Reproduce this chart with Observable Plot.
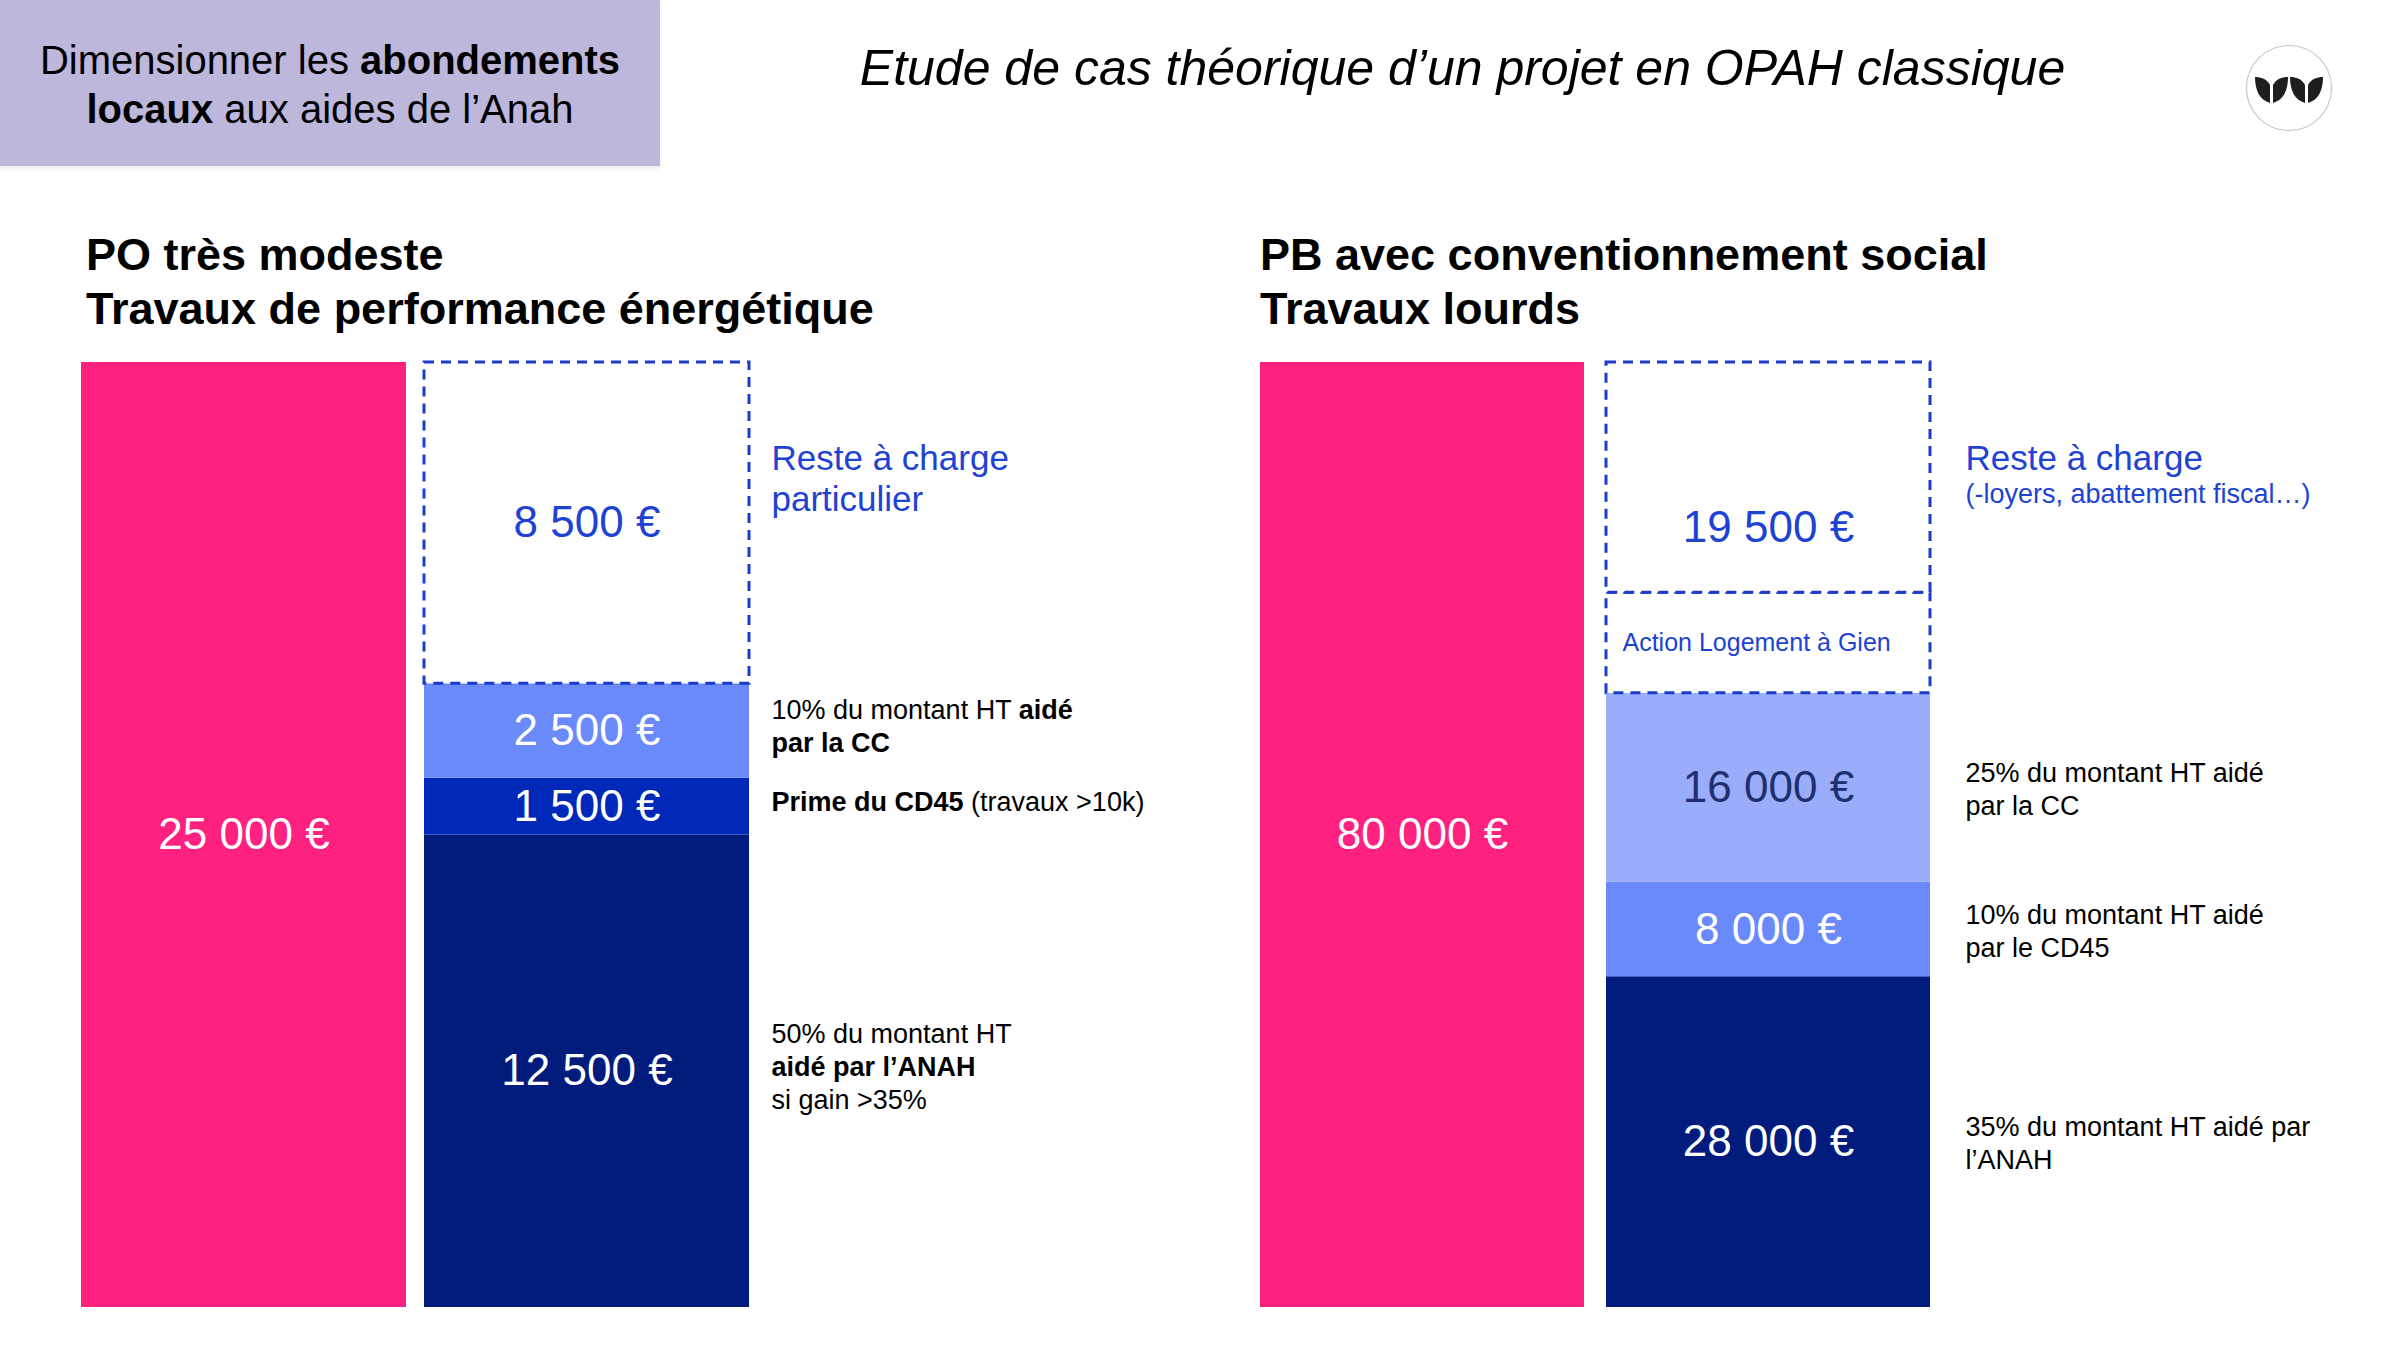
<!DOCTYPE html>
<html lang="fr">
<head>
<meta charset="utf-8">
<script src="https://cdn.jsdelivr.net/npm/d3@7"></script>
<script src="https://cdn.jsdelivr.net/npm/@observablehq/plot@0.6"></script>
<style>
  html, body { margin: 0; padding: 0; background: #fff; }
  body { width: 2400px; height: 1350px; position: relative; overflow: hidden; font-family: "Liberation Sans", Arial, sans-serif; color: #000; }
  .tag { position: absolute; left: 0; top: 0; width: 660px; height: 166px; background: #bdb7db; display: flex; align-items: center; justify-content: center; text-align: center; font-size: 40px; line-height: 49px; box-shadow: 0 3px 4px rgba(0,0,0,0.08); }
  .tag > div { margin-top: 4px; }
  .title { position: absolute; left: 851px; width: 1223px; top: 38px; font-style: italic; font-size: 50px; line-height: 60px; text-align: center; white-space: nowrap; }
  .ptitle { position: absolute; top: 228px; font-weight: bold; font-size: 45px; line-height: 54px; white-space: nowrap; }
  .plot { position: absolute; top: 340px; }
  .logo { position: absolute; left: 2245px; top: 44px; }
</style>
</head>
<body>
<div class="tag"><div>Dimensionner les <b>abondements</b><br><b>locaux</b> aux aides de l’Anah</div></div>
<div class="title">Etude de cas théorique d’un projet en OPAH classique</div>
<svg class="logo" width="88" height="88" viewBox="0 0 88 88">
  <circle cx="44" cy="44" r="42.5" fill="#fff" stroke="#c8c8c8" stroke-width="1.2"/>
  <path d="M25,59 L25,41 C22,35 16,33 10,33 C10,47 15,56 25,59 Z" fill="#1e1e1e"/>
  <path d="M28,59 L28,41 C31,35 37,33 43,33 C43,47 38,56 28,59 Z" fill="#1e1e1e"/>
  <path d="M60,59 L60,41 C57,35 51,33 45,33 C45,47 50,56 60,59 Z" fill="#1e1e1e"/>
  <path d="M63,59 L63,41 C66,35 72,33 78,33 C78,47 73,56 63,59 Z" fill="#1e1e1e"/>
</svg>
<div class="ptitle" id="t1" style="left:86px"></div>
<div class="ptitle" id="t2" style="left:1260px"></div>
<div class="plot" id="p1" style="left:0px"></div>
<div class="plot" id="p2" style="left:1180px"></div>

<script>
// ---------- DATA ----------
const titrePO = ["PO très modeste", "Travaux de performance énergétique"];
const coutTotalPO = 25000;
const postesPO = ["ANAH", "CD45", "CC", "Reste à charge"];
const montantsPO = [12500, 1500, 2500, 8500];
const notesPO = [
  "50% du montant HT\n**aidé par l’ANAH**\nsi gain >35%",
  "**Prime du CD45** (travaux >10k)",
  "10% du montant HT **aidé**\n**par la CC**",
  "Reste à charge\nparticulier"
];
const sousNotesPO = ["", "", "", ""];

const titrePB = ["PB avec conventionnement social", "Travaux lourds"];
const coutTotalPB = 80000;
const postesPB = ["ANAH", "CD45", "CC", "Action Logement à Gien", "Reste à charge"];
const montantsPB = [28000, 8000, 16000, 8500, 19500];
const notesPB = [
  "35% du montant HT aidé par\nl’ANAH",
  "10% du montant HT aidé\npar le CD45",
  "25% du montant HT aidé\npar la CC",
  "",
  "Reste à charge"
];
const sousNotesPB = ["", "", "", "", "(-loyers, abattement fiscal…)"];

// ---------- STYLES ----------
const PINK = "#ff2180";
const BLUE_LINE = "#1a3cc8";
const BLUE_TEXT = "#1e42d4";
const stylePO = {
  "ANAH": {fill: "#011c7c", text: "#ffffff"},
  "CD45": {fill: "#0029b9", text: "#ffffff"},
  "CC": {fill: "#6a89fb", text: "#ffffff"},
  "Reste à charge": {dashed: true, text: BLUE_TEXT, noteColor: BLUE_TEXT, top: true}
};
const stylePB = {
  "ANAH": {fill: "#011c7c", text: "#ffffff"},
  "CD45": {fill: "#6a89fb", text: "#ffffff"},
  "CC": {fill: "#99adfb", text: "#202f6e"},
  "Action Logement à Gien": {dashed: true, nameLabel: true, text: BLUE_TEXT},
  "Reste à charge": {dashed: true, text: BLUE_TEXT, noteColor: BLUE_TEXT, top: true}
};

const fmt = v => d3.format(",")(v).replace(/,/g, " ") + " €";

function applyBold(svg) {
  svg.querySelectorAll("text, tspan").forEach(el => {
    if (el.children.length) return;
    const s = el.textContent;
    if (!s.includes("**")) return;
    el.textContent = "";
    s.split("**").forEach((part, i) => {
      if (!part) return;
      const t = document.createElementNS("http://www.w3.org/2000/svg", "tspan");
      if (i % 2) t.setAttribute("font-weight", "bold");
      t.textContent = part;
      el.appendChild(t);
    });
  });
}

function panel({total, postes, montants, notes, sousNotes, style, width, marginLeft, marginRight, paddingInner, noteDx, noteDy}) {
  let acc = 0;
  const rows = postes.map((p, i) => {
    const y1 = acc; acc += montants[i];
    return {poste: p, v: montants[i], y1, y2: acc, mid: (y1 + acc) / 2, note: notes[i], sous: sousNotes[i], s: style[p]};
  });
  // the remaining-cost label sits in the middle of the whole dashed (non-subsidised) block
  const dashedStart = d3.min(rows.filter(d => d.s.dashed), d => d.y1);
  rows.forEach(d => { d.labelY = d.s.top ? (dashedStart + d.y2) / 2 : d.mid; });
  const half = (width - marginLeft - marginRight) / (2 - paddingInner) * (1 - paddingInner) / 2;
  const plain = rows.filter(d => !d.s.dashed);
  const dashed = rows.filter(d => d.s.dashed);
  const valued = rows.filter(d => !d.s.nameLabel);
  const named = rows.filter(d => d.s.nameLabel);
  const midNotes = rows.filter(d => d.note && !d.s.top);
  const topNotes = rows.filter(d => d.note && d.s.top);
  const subNotes = rows.filter(d => d.sous);
  const svg = Plot.plot({
    width, height: 1010,
    marginLeft, marginRight, marginTop: 22, marginBottom: 43,
    x: {type: "band", domain: ["total", "aides"], paddingInner, paddingOuter: 0, axis: null},
    y: {domain: [0, total], axis: null},
    style: {background: "transparent", fontFamily: "'Liberation Sans', Arial, sans-serif"},
    marks: [
      Plot.barY([{x: "total", y1: 0, y2: total}], {x: "x", y1: "y1", y2: "y2", fill: PINK}),
      Plot.barY(plain, {x: () => "aides", y1: "y1", y2: "y2", fill: d => d.s.fill}),
      Plot.barY(dashed, {x: () => "aides", y1: "y1", y2: "y2", fill: "white", stroke: BLUE_LINE, strokeWidth: 3, strokeDasharray: "10,7"}),
      Plot.text([{x: "total", y: total / 2}], {x: "x", y: "y", text: () => fmt(total), fill: "white", fontSize: 44}),
      Plot.text(valued, {x: () => "aides", y: "labelY", text: d => fmt(d.v), fill: d => d.s.text, fontSize: 44}),
      Plot.text(named, {x: () => "aides", y: "mid", text: "poste", fill: BLUE_TEXT, fontSize: 25, textAnchor: "start", dx: -half + 16}),
      Plot.text(midNotes, {x: () => "aides", y: "mid", text: "note", fill: "black", fontSize: 27, lineHeight: 1.23, textAnchor: "start", dx: half + noteDx, dy: noteDy}),
      Plot.text(topNotes, {x: () => "aides", y: "y2", text: "note", fill: d => d.s.noteColor, fontSize: 35, lineHeight: 1.17, lineAnchor: "top", textAnchor: "start", dx: half + noteDx, dy: 78}),
      Plot.text(subNotes, {x: () => "aides", y: "y2", text: "sous", fill: BLUE_TEXT, fontSize: 27, lineAnchor: "top", textAnchor: "start", dx: half + noteDx, dy: 121})
    ]
  });
  applyBold(svg);
  return svg;
}

document.getElementById("t1").innerHTML = titrePO.join("<br>");
document.getElementById("t2").innerHTML = titrePB.join("<br>");

document.getElementById("p1").appendChild(panel({
  total: coutTotalPO, postes: postesPO, montants: montantsPO, notes: notesPO, sousNotes: sousNotesPO, style: stylePO,
  width: 1200, marginLeft: 81, marginRight: 451, paddingInner: 0.0525, noteDx: 22, noteDy: -6
}));
document.getElementById("p2").appendChild(panel({
  total: coutTotalPB, postes: postesPB, montants: montantsPB, notes: notesPB, sousNotes: sousNotesPB, style: stylePB,
  width: 1220, marginLeft: 80, marginRight: 470, paddingInner: 0.0636, noteDx: 35, noteDy: 0
}));
</script>
</body>
</html>
